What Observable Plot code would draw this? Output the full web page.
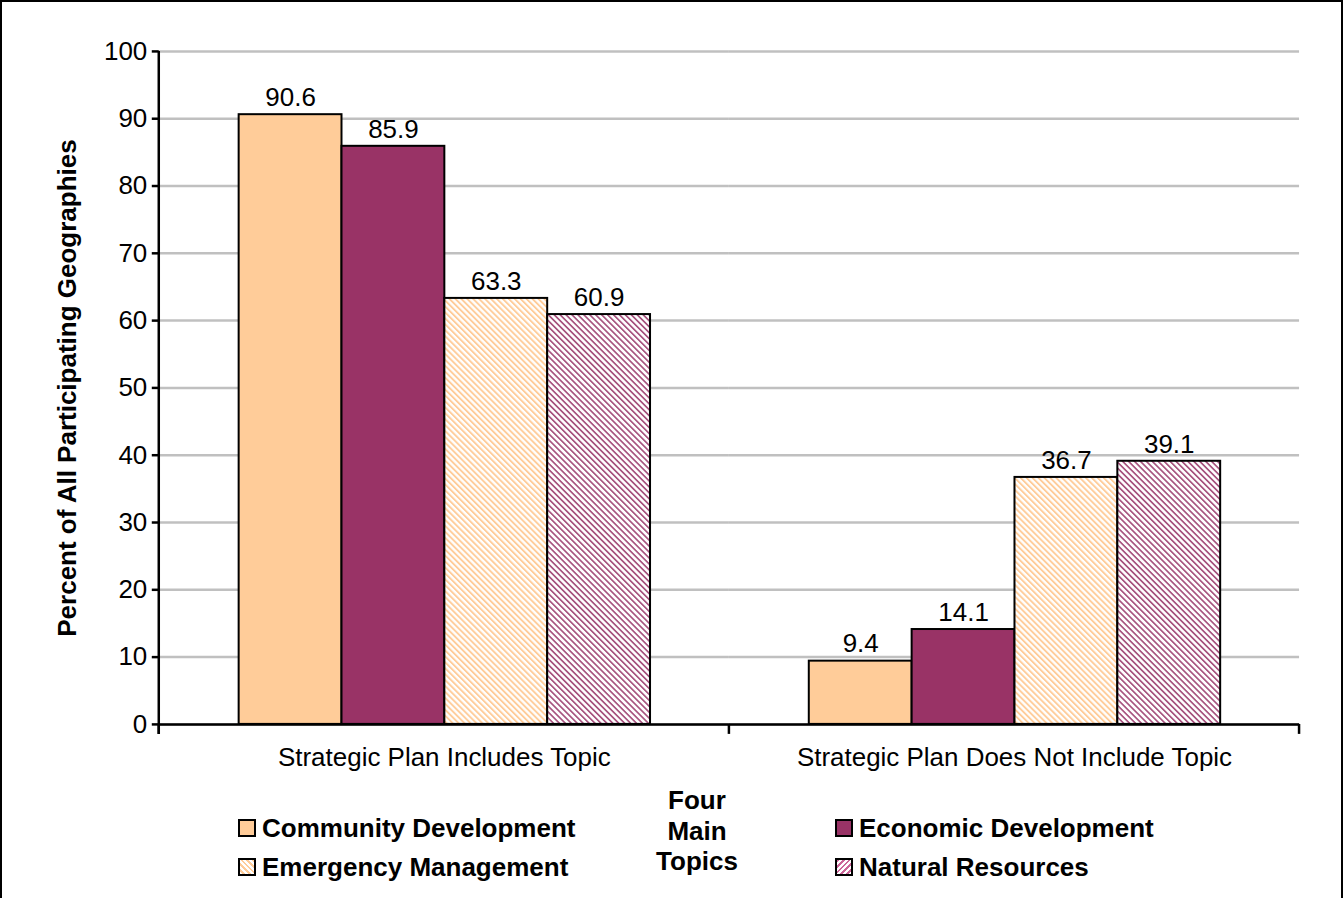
<!DOCTYPE html>
<html><head><meta charset="utf-8">
<script src="https://cdn.jsdelivr.net/npm/d3@7"></script>
<script src="https://cdn.jsdelivr.net/npm/@observablehq/plot@0.6"></script>
<style>
body{margin:0;background:#fff;font-family:"Liberation Sans",Arial,sans-serif;color:#000}
#frame{position:relative;width:1343px;height:898px;box-sizing:border-box;border:2px solid #000;border-bottom:none;overflow:hidden;background:#fff}
#chart{position:absolute;left:-2px;top:-2px}
.abs{position:absolute;white-space:nowrap}
#ytitle{left:65px;top:386px;transform:translate(-50%,-50%) rotate(-90deg);font-weight:bold;font-size:26px}
#ltitle{left:595px;top:783px;width:200px;text-align:center;font-weight:bold;font-size:26px;line-height:30.5px}
.item{font-weight:bold;font-size:26px;line-height:30px;height:30px;display:flex;align-items:center}
.sw{width:14px;height:14px;border:2px solid #000;margin-right:6px;flex:none}
</style></head>
<body>
<div id="frame">
<div id="chart"></div>
<div id="ytitle" class="abs"></div>
<div id="ltitle" class="abs"></div>
<div id="legend"></div>
</div>
<script>
const groups = ["Strategic Plan Includes Topic", "Strategic Plan Does Not Include Topic"];
const topics = ["Community Development", "Economic Development", "Emergency Management", "Natural Resources"];
const includesTopic = [90.6, 85.9, 63.3, 60.9];
const notIncludesTopic = [9.4, 14.1, 36.7, 39.1];
const yTicks = [0, 10, 20, 30, 40, 50, 60, 70, 80, 90, 100];
const yTitle = "Percent of All Participating Geographies";
const legendTitle = ["Four", "Main", "Topics"];

const barFills = ["#FFCC99", "#993366", "url(#hatchEM)", "url(#hatchNR)"];
const swatchCss = [
  "background:#FFCC99",
  "background:#993366",
  "background:repeating-linear-gradient(45deg,#fff 0 2px,#FFCC99 2px 4px)",
  "background:repeating-linear-gradient(-45deg,#fff 0 2px,#CC6699 2px 4px)"
];

const data = [];
groups.forEach((g, gi) => {
  const vals = gi === 0 ? includesTopic : notIncludesTopic;
  topics.forEach((t, ti) => data.push({group: g, topic: t, value: vals[ti]}));
});

const chart = Plot.plot({
  width: 1343, height: 790,
  marginTop: 51, marginBottom: 65, marginLeft: 158, marginRight: 42,
  style: {fontFamily: '"Liberation Sans", Arial, sans-serif', fontSize: "26px", color: "#000", background: "transparent"},
  fx: {domain: groups, padding: 0, label: null},
  x: {domain: topics, paddingInner: 0, paddingOuter: 0.76, axis: null},
  y: {domain: [0, 100], label: null},
  color: {type: "ordinal", domain: topics, range: barFills},
  marks: [
    Plot.gridY(yTicks, {stroke: "#C0C0C0", strokeOpacity: 1, strokeWidth: 2.5}),
    Plot.barY(data, {fx: "group", x: "topic", y: "value", fill: "topic", stroke: "#000", strokeWidth: 2}),
    Plot.text(data, {fx: "group", x: "topic", y: "value", text: d => d.value.toFixed(1), dy: -17, fontSize: 26, fill: "#000"}),
    Plot.ruleY([0], {stroke: "#000", strokeWidth: 2.5}),
    Plot.axisY(yTicks, {tickSize: 7, tickPadding: 5, strokeWidth: 2.5, fontSize: 26, label: null}),
    Plot.axisFx({anchor: "bottom", tickSize: 0, tickPadding: 23, fontSize: 26, label: null})
  ]
});
document.getElementById("chart").appendChild(chart);

// hatch patterns
const svg = d3.select(chart);
const defs = svg.insert("defs", ":first-child");
function hatch(id, color, w) {
  const p = defs.append("pattern").attr("id", id).attr("patternUnits", "userSpaceOnUse")
    .attr("width", 4.2).attr("height", 4.2).attr("patternTransform", "rotate(-45)");
  p.append("rect").attr("width", 4.2).attr("height", 4.2).attr("fill", "#fff");
  p.append("rect").attr("width", w).attr("height", 4.2).attr("fill", color);
}
hatch("hatchEM", "#FFCC99", 1.9);
hatch("hatchNR", "#A85580", 1.7);

// axis lines and boundary ticks
const fx = chart.scale("fx"), ys = chart.scale("y");
const y0 = ys.apply(0), y1 = ys.apply(100);
const x0 = fx.apply(groups[0]);
const g = svg.append("g").attr("stroke", "#000").attr("stroke-width", 2.5);
g.append("line").attr("x1", x0).attr("x2", x0).attr("y1", y1).attr("y2", y0 + 10);
const bounds = new Set();
groups.forEach(gr => { bounds.add(fx.apply(gr)); bounds.add(fx.apply(gr) + fx.bandwidth); });
for (const b of bounds) g.append("line").attr("x1", b).attr("x2", b).attr("y1", y0).attr("y2", y0 + 10);

// titles and legend
document.getElementById("ytitle").textContent = yTitle;
document.getElementById("ltitle").innerHTML = legendTitle.join("<br>");
const legendPos = [[236, 811], [833, 811], [236, 850], [833, 850]];
const leg = document.getElementById("legend");
topics.forEach((t, i) => {
  const d = document.createElement("div");
  d.className = "abs item";
  d.style.left = legendPos[i][0] + "px";
  d.style.top = legendPos[i][1] + "px";
  const s = document.createElement("span");
  s.className = "sw";
  s.style.cssText = swatchCss[i];
  d.appendChild(s);
  d.appendChild(document.createTextNode(t));
  leg.appendChild(d);
});
</script>
</body></html>
